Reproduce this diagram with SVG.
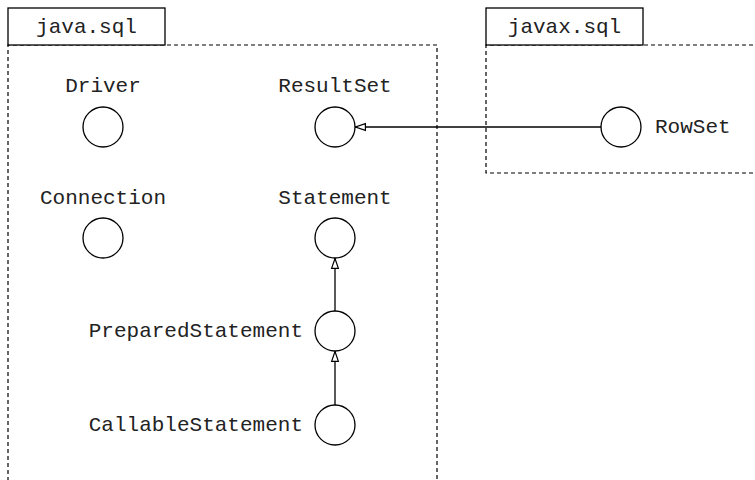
<svg xmlns="http://www.w3.org/2000/svg" width="755" height="480" viewBox="0 0 755 480">
<style>
text{font-family:"Liberation Mono","Courier New",monospace;font-size:21px;fill:#222}
.pkg{fill:none;stroke:#000;stroke-width:1.2;stroke-dasharray:4,3}
.tab{fill:#fff;stroke:#000;stroke-width:1.3}
.node circle{fill:#fff;stroke:#000;stroke-width:1.3}
.conn line{stroke:#000;stroke-width:1.3;fill:none}
</style>
<defs>
<marker id="tri" viewBox="0 0 11 10" refX="11" refY="5" markerWidth="11" markerHeight="10" markerUnits="userSpaceOnUse" orient="auto">
<path d="M0.6,1.6 L10.5,5 L0.6,8.4 Z" fill="#fff" stroke="#000" stroke-width="1.2"/>
</marker>
</defs>
<g id="pkg-java-sql">
<polyline class="pkg" points="8,481 8,45 437,45 437,481"/>
<rect class="tab" x="8" y="8" width="157" height="37"/>
<text x="86.5" y="33" text-anchor="middle">java.sql</text>
</g>
<g id="pkg-javax-sql">
<polyline class="pkg" points="760,45 486,45 486,173 760,173"/>
<rect class="tab" x="486" y="8" width="157" height="37"/>
<text x="564.5" y="33" text-anchor="middle">javax.sql</text>
</g>
<g class="conn" id="connectors">
<line x1="601" y1="127" x2="355" y2="127" marker-end="url(#tri)"/>
<line x1="335" y1="311" x2="335" y2="258" marker-end="url(#tri)"/>
<line x1="335" y1="405" x2="335" y2="351" marker-end="url(#tri)"/>
</g>
<g class="node" id="driver"><circle cx="103" cy="127" r="20"/><text x="103" y="92" text-anchor="middle">Driver</text></g>
<g class="node" id="resultset"><circle cx="335" cy="127" r="20"/><text x="335" y="92" text-anchor="middle">ResultSet</text></g>
<g class="node" id="connection"><circle cx="103" cy="238" r="20"/><text x="103" y="204" text-anchor="middle">Connection</text></g>
<g class="node" id="statement"><circle cx="335" cy="238" r="20"/><text x="335" y="204" text-anchor="middle">Statement</text></g>
<g class="node" id="preparedstatement"><circle cx="335" cy="331" r="20"/><text x="303" y="337" text-anchor="end">PreparedStatement</text></g>
<g class="node" id="callablestatement"><circle cx="335" cy="425" r="20"/><text x="303" y="431" text-anchor="end">CallableStatement</text></g>
<g class="node" id="rowset"><circle cx="621" cy="127" r="20"/><text x="655" y="133">RowSet</text></g>
</svg>
